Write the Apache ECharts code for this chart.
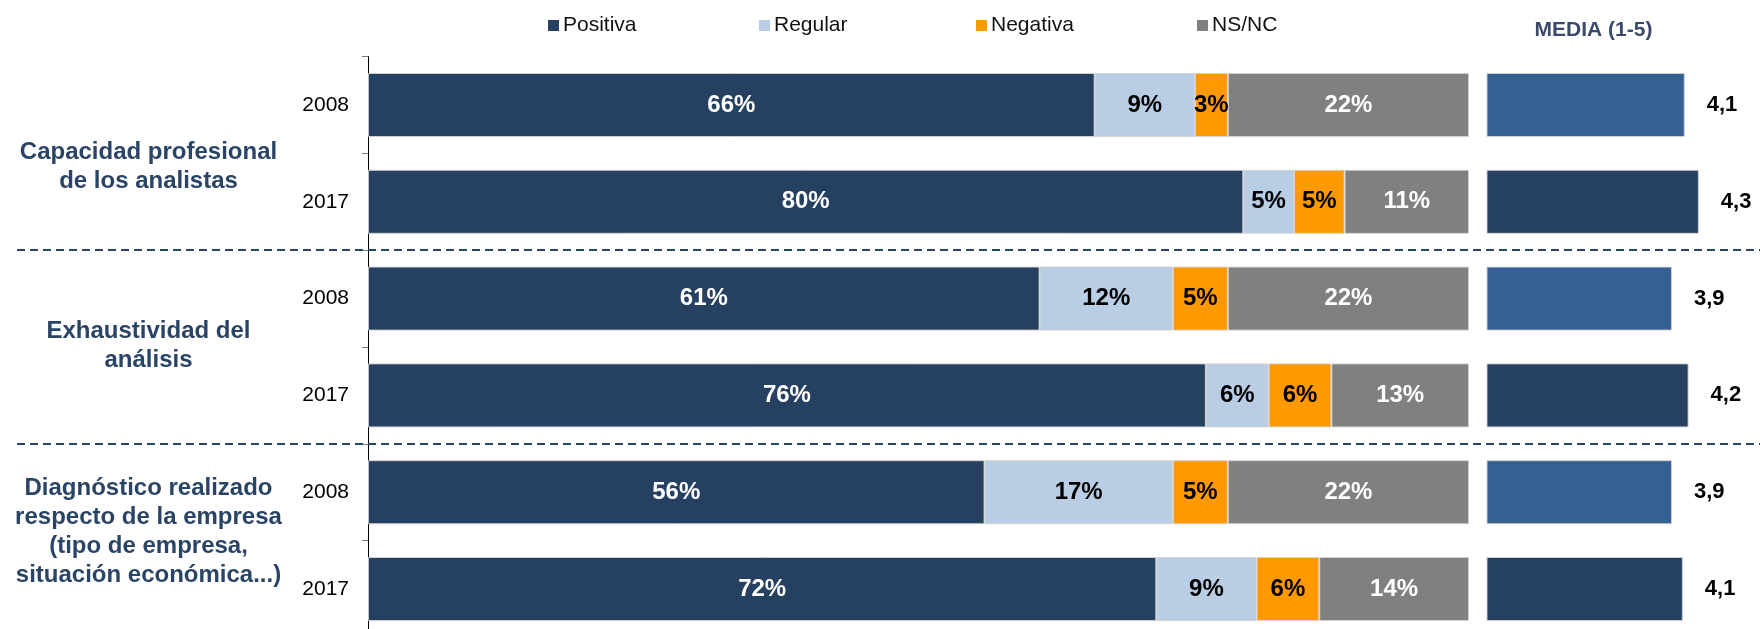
<!DOCTYPE html>
<html>
<head>
<meta charset="utf-8">
<script src="https://cdn.jsdelivr.net/npm/echarts@6/dist/echarts.min.js"></script>
<style>
  html, body { margin: 0; padding: 0; background: #ffffff; }
  #chart { width: 1760px; height: 629px; }
</style>
</head>
<body>
<div id="chart"></div>
<script>
// ---------- DATA ----------
const rowYears = ['2008', '2017', '2008', '2017', '2008', '2017'];
const groupNames = [
  'Capacidad profesional\nde los analistas',
  'Exhaustividad del\nanálisis',
  'Diagnóstico realizado\nrespecto de la empresa\n(tipo de empresa,\nsituación económica...)'
];
const seriesNames = ['Positiva', 'Regular', 'Negativa', 'NS/NC'];
const positiva = [66.0, 79.5, 61.0, 76.1, 56.0, 71.6];
const regular  = [9.1, 4.6, 12.1, 5.7, 17.1, 9.1];
const negativa = [3.0, 4.6, 5.0, 5.7, 5.0, 5.7];
const nsnc     = [21.9, 11.3, 21.9, 12.5, 21.9, 13.6];
const meanValues = [4.09, 4.31, 3.89, 4.15, 3.89, 4.06];
const meanTitle = 'MEDIA (1-5)';

// ---------- STYLE / LAYOUT ----------
const FONT = "'Liberation Sans', Arial, Helvetica, sans-serif";
const seriesColors = ['#264061', '#b9cde5', '#ff9900', '#808080'];
const labelColors = ['#ffffff', '#000000', '#000000', '#ffffff'];
const meanColorByYear = { '2008': '#366092', '2017': '#264061' };
const navy = '#2a4466';
const gridTop = 56.6, gridHeight = 580.8;
const legendLefts = [543, 754, 971, 1192];
const groupLabelPos = [[148.5, 167], [148.5, 346], [148.5, 531.5]];

const rowIds = rowYears.map((_, i) => 'r' + i);
const seriesData = [positiva, regular, negativa, nsnc];

const chart = echarts.init(document.getElementById('chart'), null, { renderer: 'canvas' });

const stackSeries = seriesNames.map((name, si) => ({
  name: name,
  type: 'bar',
  stack: 'total',
  xAxisIndex: 0,
  yAxisIndex: 0,
  barWidth: 64,
  data: seriesData[si],
  itemStyle: { color: seriesColors[si], borderColor: 'rgba(210,210,210,0.9)', borderWidth: 1 },
  label: {
    show: true,
    position: 'inside',
    formatter: p => Math.round(p.value) + '%',
    color: labelColors[si],
    fontFamily: FONT,
    fontWeight: 'bold',
    fontSize: 24
  },
  emphasis: { disabled: true }
}));

const meanSeries = {
  name: 'Media',
  type: 'bar',
  xAxisIndex: 1,
  yAxisIndex: 1,
  barWidth: 64,
  data: meanValues.map((v, i) => ({
    value: v,
    itemStyle: { color: meanColorByYear[rowYears[i]] }
  })),
  itemStyle: { borderColor: 'rgba(210,210,210,0.9)', borderWidth: 1 },
  label: {
    show: true,
    position: 'right',
    distance: 22,
    formatter: p => (Math.round(p.value * 10) / 10).toFixed(1).replace('.', ','),
    color: '#000000',
    fontFamily: FONT,
    fontWeight: 'bold',
    fontSize: 22
  },
  emphasis: { disabled: true }
};

const option = {
  animation: false,
  backgroundColor: '#ffffff',
  textStyle: { fontFamily: FONT },
  legend: seriesNames.map((n, i) => ({
    data: [n],
    left: legendLefts[i],
    top: 10,
    itemWidth: 11,
    itemHeight: 11,
    itemGap: 0,
    icon: 'rect',
    selectedMode: false,
    itemStyle: { borderWidth: 0 },
    textStyle: { fontFamily: FONT, fontSize: 21, color: '#111111', padding: [0, 0, 0, -1] }
  })),
  grid: [
    { left: 368, width: 1101, top: gridTop, height: gridHeight, outerBoundsMode: 'none', containLabel: false },
    { left: 1487, width: 256, top: gridTop, height: gridHeight, outerBoundsMode: 'none', containLabel: false }
  ],
  xAxis: [
    { gridIndex: 0, type: 'value', min: 0, max: 100, show: false },
    { gridIndex: 1, type: 'value', min: 1, max: 5, show: false }
  ],
  yAxis: [
    {
      gridIndex: 0, type: 'category', inverse: true, data: rowIds,
      axisLine: { show: true, lineStyle: { color: '#000000', width: 1 } },
      axisTick: { show: true, length: 6, interval: 0, lineStyle: { color: '#7f7f7f' } },
      axisLabel: {
        margin: 19,
        formatter: (v, idx) => rowYears[idx],
        color: '#000000', fontFamily: FONT, fontSize: 21
      },
      splitLine: { show: false }
    },
    {
      gridIndex: 1, type: 'category', inverse: true, data: rowIds,
      axisLine: { show: false }, axisTick: { show: false }, axisLabel: { show: false },
      splitLine: { show: false }
    }
  ],
  series: stackSeries.concat([meanSeries])
};

chart.setOption(option);

// separators between groups, computed from the category axis
const px = i => chart.convertToPixel({ yAxisIndex: 0 }, rowIds[i]);
const separators = [2, 4].map(k => (px(k - 1) + px(k)) / 2);

const graphics = [];
separators.forEach(y => {
  graphics.push({
    type: 'line', silent: true, z: 10,
    shape: { x1: 17, y1: Math.round(y), x2: 1760, y2: Math.round(y) },
    style: { stroke: '#2a4466', lineWidth: 2, lineDash: [8, 5] }
  });
});
groupNames.forEach((t, i) => {
  graphics.push({
    type: 'text', silent: true,
    x: groupLabelPos[i][0], y: groupLabelPos[i][1],
    style: {
      text: t, fill: navy, font: 'bold 24px ' + FONT,
      align: 'center', verticalAlign: 'middle', lineHeight: 29
    }
  });
});
graphics.push({
  type: 'text', silent: true, x: 1593.5, y: 30,
  style: {
    text: meanTitle, fill: '#3b4a6b', font: 'bold 21px ' + FONT,
    align: 'center', verticalAlign: 'middle'
  }
});
chart.setOption({ graphic: graphics });
</script>
</body>
</html>
